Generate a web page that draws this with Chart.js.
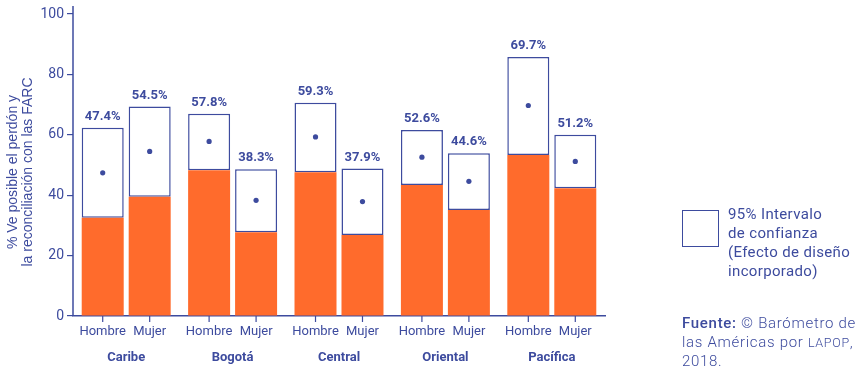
<!DOCTYPE html>
<html>
<head>
<meta charset="utf-8">
<script src="https://cdn.jsdelivr.net/npm/chart.js@4"></script>
<style>
  body { margin: 0; background: #fff; }
  #wrap { position: relative; width: 859px; height: 369px; }
  #legend-box { position: absolute; left: 682px; top: 210px; width: 35px; height: 35px; border: 1.5px solid #3d4b9e; }
  #legend-text { position: absolute; left: 728px; top: 205px; font: 15px Roboto, sans-serif; letter-spacing: 0.35px; line-height: 19px; color: #3d4b9e; }
  #source { position: absolute; left: 682px; top: 314px; font: 300 15px Roboto, sans-serif; letter-spacing: 0.7px; line-height: 19px; color: #3d4b9e; }
</style>
</head>
<body>
<div id="wrap">
  <canvas id="chart" width="859" height="369"></canvas>
  <div id="legend-box"></div>
  <div id="legend-text">95% Intervalo<br>de confianza<br>(Efecto de diseño<br>incorporado)</div>
  <div id="source"><b style="font-weight:500">Fuente:</b> © Barómetro de<br>las Américas por <span style="font-size:12.5px">LAPOP</span>,<br>2018.</div>
</div>
<script>
// regiones y valores (% ve posible el perdón)
const regions = ['Caribe', 'Bogotá', 'Central', 'Oriental', 'Pacífica'];
const sexes = ['Hombre', 'Mujer'];

const hombreMean = [47.4, 57.8, 59.3, 52.6, 69.7];
const hombreLow  = [32.5, 48.3, 47.6, 43.4, 53.3];
const hombreHigh = [62.3, 67.0, 70.6, 61.6, 85.8];

const mujerMean = [54.5, 38.3, 37.9, 44.6, 51.2];
const mujerLow  = [39.5, 27.7, 26.8, 35.1, 42.3];
const mujerHigh = [69.4, 48.6, 48.8, 53.9, 60.0];

const yTicks = [0, 20, 40, 60, 80, 100];

const navy = '#3d4b9e';
const orange = '#ff6b2c';

const means = [hombreMean, mujerMean];
const highs = [hombreHigh, mujerHigh];

const overlay = {
  id: 'overlay',
  afterDatasetsDraw(chart) {
    const ctx = chart.ctx;
    const y = chart.scales.y;
    const x = chart.scales.x;
    const area = chart.chartArea;
    ctx.save();

    // y axis line goes a bit above 100
    ctx.strokeStyle = navy;
    ctx.lineWidth = 1.5;
    ctx.beginPath();
    ctx.moveTo(area.left, area.top - 8);
    ctx.lineTo(area.left, area.bottom);
    ctx.stroke();

    [1, 3].forEach((dsIndex, s) => {
      const meta = chart.getDatasetMeta(dsIndex);
      meta.data.forEach((bar, i) => {
        // dot for the mean
        ctx.fillStyle = navy;
        ctx.beginPath();
        ctx.arc(bar.x, y.getPixelForValue(means[s][i]), 2.6, 0, Math.PI * 2);
        ctx.fill();
        // value label
        ctx.font = 'bold 13px Roboto';
        ctx.textAlign = 'center';
        ctx.textBaseline = 'middle';
        ctx.fillText(means[s][i].toFixed(1) + '%', bar.x, y.getPixelForValue(highs[s][i]) - 11);
        // x tick and sex label
        ctx.lineWidth = 1.2;
        ctx.beginPath();
        ctx.moveTo(bar.x, area.bottom);
        ctx.lineTo(bar.x, area.bottom + 6);
        ctx.stroke();
        ctx.font = '13px Roboto';
        ctx.fillText(sexes[s], bar.x, area.bottom + 16);
      });
    });

    // region labels
    ctx.font = 'bold 13px Roboto';
    regions.forEach((r, i) => {
      ctx.fillText(r, x.getPixelForValue(i), area.bottom + 42);
    });

    // y title, two lines
    ctx.font = '14px "Liberation Sans"';
    ctx.translate(0, 172);
    ctx.rotate(-Math.PI / 2);
    ctx.fillText('% Ve posible el perdón y', 0, 13);
    ctx.fillText('la reconciliación con las FARC', 0, 28.5);
    ctx.restore();
  }
};

new Chart(document.getElementById('chart'), {
  type: 'bar',
  data: {
    labels: regions,
    datasets: [
      { data: hombreLow, stack: 'H', backgroundColor: orange, borderWidth: 0 },
      { data: hombreLow.map((l, i) => [l, hombreHigh[i]]), stack: 'H', backgroundColor: '#fff',
        borderColor: navy, borderWidth: 1.5, borderSkipped: false },
      { data: mujerLow, stack: 'M', backgroundColor: orange, borderWidth: 0 },
      { data: mujerLow.map((l, i) => [l, mujerHigh[i]]), stack: 'M', backgroundColor: '#fff',
        borderColor: navy, borderWidth: 1.5, borderSkipped: false }
    ]
  },
  options: {
    responsive: false,
    animation: false,
    categoryPercentage: 0.883,
    barPercentage: 0.894,
    layout: { padding: { top: 14, right: 254, left: 0, bottom: 0 } },
    plugins: { legend: { display: false }, tooltip: { enabled: false } },
    scales: {
      x: {
        stacked: true,
        grid: { display: false },
        border: { color: navy, width: 1.5 },
        ticks: { display: false },
        afterFit(scale) { scale.height = 53; }
      },
      y: {
        stacked: false,
        min: 0,
        max: 100,
        afterBuildTicks(scale) { scale.ticks = yTicks.map(v => ({ value: v })); },
        grid: { drawOnChartArea: false, color: navy, tickLength: 6, lineWidth: 1.2 },
        border: { display: false },
        ticks: { color: navy, font: { family: 'Roboto', size: 14 }, padding: 3 },
        afterFit(scale) { scale.width = 73; }
      }
    }
  },
  plugins: [overlay]
});
</script>
</body>
</html>
